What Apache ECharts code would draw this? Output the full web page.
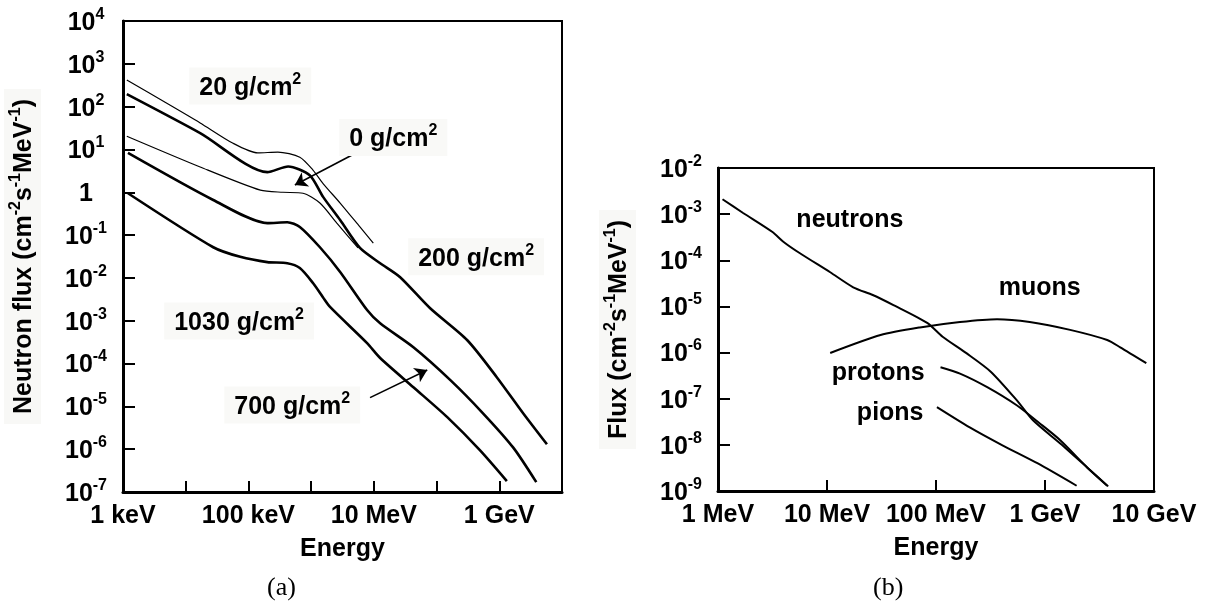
<!DOCTYPE html>
<html><head><meta charset="utf-8">
<script src="https://cdn.jsdelivr.net/npm/echarts@6/dist/echarts.min.js"></script>
<style>html,body{margin:0;padding:0;background:#fff}#c{width:1208px;height:603px}</style>
</head><body><div id="c"></div><script>
// ---------- Data (energies in MeV, flux in cm^-2 s^-1 MeV^-1) ----------
// Panel (a): neutron flux at several atmospheric depths
const a20_E   = [0.00115, 0.005, 0.017, 0.056, 0.141, 0.295, 0.66, 1.07, 1.55, 2.9, 6.0, 9.8];
const a20_F   = [417, 120, 41.7, 14.1, 8.3, 8.7, 6.6, 3.3, 1.6, 0.56, 0.155, 0.065];
const a200_E  = [0.00115, 0.017, 0.2, 0.43, 0.95, 1.55, 2.9, 6.0, 12.6, 26, 79, 309, 912, 2400, 5750];
const a200_F  = [195, 24, 2.95, 4.0, 2.5, 0.78, 0.224, 0.05, 0.022, 0.0105, 0.00195, 3.5e-4, 4.8e-5, 6.9e-6, 1.3e-6];
const a0_E    = [0.00115, 0.017, 0.155, 0.355, 0.74, 1.38, 2.57, 5.6];
const a0_F    = [20.4, 3.9, 1.12, 1.0, 0.95, 0.56, 0.19, 0.05];
const a700_E  = [0.0012, 0.0275, 0.2, 0.417, 0.66, 1.38, 2.9, 7.8, 12.6, 42.7, 166, 550, 1660, 3890];
const a700_F  = [8.3, 0.66, 0.19, 0.2, 0.155, 0.052, 0.0138, 0.00178, 8.7e-4, 2.4e-4, 4.1e-5, 6.9e-6, 1.1e-6, 1.7e-7];
const a1030_E = [0.0012, 0.0275, 0.074, 0.2, 0.417, 0.66, 1.07, 1.55, 2.0, 7.8, 12.6, 42.7, 148, 490, 1320];
const a1030_F = [0.95, 0.052, 0.031, 0.0234, 0.022, 0.017, 0.0076, 0.0035, 0.0021, 3.0e-4, 1.35e-4, 2.8e-5, 5.6e-6, 9.5e-7, 1.8e-7];
// Panel (b): particle fluxes
const neutrons_E = [1.1, 1.7, 3.16, 4.0, 5.6, 10.7, 17.4, 26.3, 40.7, 83, 115, 190, 316, 550, 776, 1380, 2450, 3800];
const neutrons_F = [2.1e-3, 1.06e-3, 4.1e-4, 2.5e-4, 1.44e-4, 5.5e-5, 2.6e-5, 1.77e-5, 1.07e-5, 4.4e-6, 2.2e-6, 9.7e-7, 3.9e-7, 9.3e-8, 3.4e-8, 1.07e-8, 3.2e-9, 1.26e-9];
const muons_E    = [10.7, 31, 71, 166, 363, 724, 1700, 3720, 4900, 8500];
const muons_F    = [9.8e-7, 2.4e-6, 3.5e-6, 4.6e-6, 5.3e-6, 4.6e-6, 3.1e-6, 1.87e-6, 1.3e-6, 5.9e-7];
const protons_E  = [110, 166, 295, 550, 891, 1380, 2450, 3720];
const protons_F  = [4.8e-7, 3.5e-7, 1.78e-7, 7.2e-8, 2.95e-8, 1.26e-8, 3.2e-9, 1.3e-9];
const pions_E    = [102, 204, 407, 851, 1950];
const pions_F    = [6.6e-8, 2.4e-8, 9.8e-9, 4.0e-9, 1.3e-9];
// Tick labels (by decade exponent of MeV)
const aTickLabels = {'-3': '1 keV', '-1': '100 keV', '1': '10 MeV', '3': '1 GeV'};
const bTickLabels = {'0': '1 MeV', '1': '10 MeV', '2': '100 MeV', '3': '1 GeV', '4': '10 GeV'};
// Annotations (anchor in data coordinates)
const aLabelText  = ['20 g/cm', '0 g/cm', '200 g/cm', '1030 g/cm', '700 g/cm'];
const aLabelE     = [0.107, 20.4, 427, 0.071, 0.5];
const aLabelF     = [302, 19, 0.031, 9.8e-4, 1.07e-5];
const bLabelText  = ['neutrons', 'muons', 'protons', 'pions'];
const bLabelE     = [16.2, 895, 29.5, 38];
const bLabelF     = [8.3e-4, 2.7e-5, 4.0e-7, 5.4e-8];
const aArrowFrom  = [[4.5, 7.4], [8.7, 1.6e-5]];
const aArrowTo    = [[0.55, 1.48], [71, 7.1e-5]];

// ---------- Styling ----------
const FONT = 'Liberation Sans';
const FS = 25, SS = 16, LH = 29;
const zip = (x, y) => x.map((v, i) => [v, y[i]]);
const richTS = () => ({
  t: {fontFamily: FONT, fontWeight: 'bold', fontSize: FS, color: '#000', lineHeight: LH, verticalAlign: 'bottom'},
  s: {fontFamily: FONT, fontWeight: 'bold', fontSize: SS, color: '#000', lineHeight: SS, verticalAlign: 'top'}
});
const yFmt = v => { const e = Math.round(Math.log10(v)); return e === 0 ? '{t|1}' : '{t|10}{s|' + e + '}'; };

function xAxisCfg(grid, min, max, labels) {
  return {
    type: 'log', logBase: 10, gridIndex: grid, min: min, max: max, interval: 1,
    name: 'Energy', nameLocation: 'middle', nameGap: 45,
    nameTextStyle: {fontFamily: FONT, fontWeight: 'bold', fontSize: FS, color: '#000'},
    axisLine: {show: true, lineStyle: {color: '#000', width: 3}},
    axisTick: {show: true, inside: true, length: 11, lineStyle: {color: '#000', width: 2}},
    axisLabel: {show: true, margin: 12, showMinLabel: true, showMaxLabel: true,
      fontFamily: FONT, fontWeight: 'bold', fontSize: FS, color: '#000',
      formatter: v => { const e = Math.round(Math.log10(v)); return labels[String(e)] || ''; }},
    splitLine: {show: false}, minorTick: {show: false}
  };
}
function yAxisCfg(grid, min, max, nameMain, gap) {
  return {
    type: 'log', logBase: 10, gridIndex: grid, min: min, max: max, interval: 1,
    name: nameMain, nameLocation: 'middle', nameRotate: 90, nameGap: gap,
    nameTextStyle: {backgroundColor: '#f8f8f6', padding: [4, 10, 4, 10], rich: richTS()},
    axisLine: {show: true, lineStyle: {color: '#000', width: 3}},
    axisTick: {show: true, inside: true, length: 12, lineStyle: {color: '#000', width: 2}},
    axisLabel: {show: true, margin: 37, align: 'center', showMinLabel: true, showMaxLabel: true,
      formatter: yFmt, rich: richTS()},
    splitLine: {show: false}, minorTick: {show: false}
  };
}
const yName = '{t|(cm}{s|-2}{t|s}{s|-1}{t|MeV}{s|-1}{t|)}';

function line(name, xi, E, F, width) {
  return {name: name, type: 'line', xAxisIndex: xi, yAxisIndex: xi, data: zip(E, F),
    showSymbol: false, smooth: 0.25,
    lineStyle: {color: '#000', width: width}, silent: true, z: 3};
}

const chart = echarts.init(document.getElementById('c'), null, {renderer: 'canvas'});
const option = {
  animation: false,
  backgroundColor: '#fff',
  grid: [
    {left: 123, top: 21, right: 646, bottom: 111, show: true, borderColor: '#000', borderWidth: 2, backgroundColor: 'transparent', outerBoundsMode: 'none'},
    {left: 718, top: 168, right: 54, bottom: 112, show: true, borderColor: '#000', borderWidth: 2, backgroundColor: 'transparent', outerBoundsMode: 'none'}
  ],
  xAxis: [xAxisCfg(0, 1e-3, 1e4, aTickLabels), xAxisCfg(1, 1, 1e4, bTickLabels)],
  yAxis: [yAxisCfg(0, 1e-7, 1e4, '{t|Neutron flux }' + yName, 82), yAxisCfg(1, 1e-9, 1e-2, '{t|Flux }' + yName, 82)],
  series: [
    line('20 g/cm2', 0, a20_E, a20_F, 1.2),
    line('200 g/cm2', 0, a200_E, a200_F, 2.6),
    line('0 g/cm2', 0, a0_E, a0_F, 1.2),
    line('700 g/cm2', 0, a700_E, a700_F, 2.6),
    line('1030 g/cm2', 0, a1030_E, a1030_F, 2.6),
    line('neutrons', 1, neutrons_E, neutrons_F, 2),
    line('muons', 1, muons_E, muons_F, 2),
    line('protons', 1, protons_E, protons_F, 2),
    line('pions', 1, pions_E, pions_F, 2),
    {type: 'line', xAxisIndex: 0, yAxisIndex: 0, data: [], silent: true,
      markPoint: {symbol: 'circle', symbolSize: 1, itemStyle: {color: 'rgba(0,0,0,0)'},
        label: {show: true, position: 'inside', backgroundColor: '#f9f9f7', padding: [4, 10, 4, 10],
          formatter: p => '{t|' + p.name + '}{s|2}', rich: richTS()},
        data: aLabelText.map((t, i) => ({name: t, coord: [aLabelE[i], aLabelF[i]]}))},
      markLine: {silent: true, symbol: ['none', 'arrow'], symbolSize: 12,
        itemStyle: {color: '#000'},
        lineStyle: {color: '#000', width: 1.6, type: 'solid'}, label: {show: false},
        data: aArrowFrom.map((f, i) => [{coord: f}, {coord: aArrowTo[i]}])}
    },
    {type: 'line', xAxisIndex: 1, yAxisIndex: 1, data: [], silent: true,
      markPoint: {symbol: 'circle', symbolSize: 1, itemStyle: {color: 'rgba(0,0,0,0)'},
        label: {show: true, position: 'inside', formatter: p => '{t|' + p.name + '}', rich: richTS()},
        data: bLabelText.map((t, i) => ({name: t, coord: [bLabelE[i], bLabelF[i]]}))}
    }
  ],
  graphic: [
    {type: 'text', left: 267, top: 575, style: {text: '(a)', fontFamily: 'Liberation Serif', fontSize: 26, fill: '#000'}},
    {type: 'text', left: 873, top: 575, style: {text: '(b)', fontFamily: 'Liberation Serif', fontSize: 26, fill: '#000'}}
  ]
};
chart.setOption(option);
</script></body></html>
